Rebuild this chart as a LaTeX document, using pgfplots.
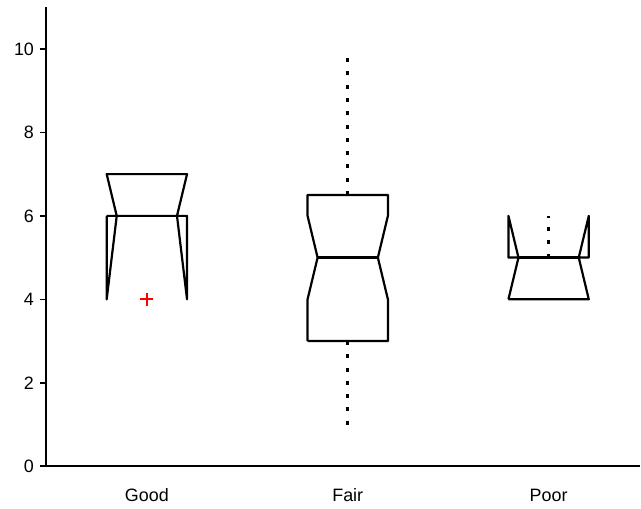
\documentclass[border=0pt]{standalone}
\usepackage{fontspec}
\setmainfont{Liberation Sans}
\usepackage{pgfplots}
\pgfplotsset{compat=1.18}

\begin{document}
\begin{tikzpicture}
\begin{axis}[
  scale only axis,
  width=594.5bp, height=459.8bp,
  xmin=0.5, xmax=3.455,
  ymin=0, ymax=11,
  axis x line=bottom, axis y line=left,
  axis line style={-, line width=2bp},
  every tick label/.append style={font=\fontsize{18}{21}\selectfont},
  /pgf/number format/assume math mode=true,
  ytick={0,2,...,10},
  tick align=outside,
  major tick length=6bp,
  every tick/.style={black, line width=1.6bp},
  yticklabel style={xshift=-3bp},
  xtick={1,2,3},
  xticklabels={Good, Fair, Poor},
  x tick style={draw=none},
  xticklabel style={anchor=base, yshift=-29bp},
  extra x ticks={1.5,2.5},
  extra x tick labels={},
  extra x tick style={tick style={draw=black, line width=1.6bp}},
  clip=false,
]
% boxes (notched outlines)
\addplot[black, line width=2.2bp, sharp plot, line join=round] coordinates {
  (0.8,6) (0.8,4) (0.85,6) (0.8,7) (1.2,7) (1.15,6) (1.2,4) (1.2,6) (0.8,6)
};
\addplot[black, line width=2.2bp, sharp plot, line join=round] coordinates {
  (1.8,3) (1.8,4) (1.85,5) (1.8,6) (1.8,6.5) (2.2,6.5) (2.2,6) (2.15,5) (2.2,4) (2.2,3) (1.8,3)
};
\addplot[black, line width=2.2bp, sharp plot, line join=round] coordinates {
  (2.8,4) (2.85,5) (2.8,6) (2.8,5) (3.2,5) (3.2,6) (3.15,5) (3.2,4) (2.8,4)
};
% medians
\addplot[black, line width=2.2bp] coordinates {(1.85,5) (2.15,5)};
\addplot[black, line width=2.2bp] coordinates {(2.85,5) (3.15,5)};
% whiskers
\addplot[black, line width=2.5bp, dash pattern=on 4bp off 9.3bp] coordinates {(2,6.5) (2,9.8)};
\addplot[black, line width=2.5bp, dash pattern=on 4bp off 9.3bp] coordinates {(2,3) (2,1)};
\addplot[black, line width=2.5bp, dash pattern=on 4bp off 9.3bp] coordinates {(3,5) (3,6)};
% outlier
\addplot[only marks, mark=+, mark size=6.5bp, color=red, line width=1.8bp] coordinates {(1,4)};
\end{axis}
\useasboundingbox ([xshift=-46.5bp, yshift=-42bp]current axis.south west) rectangle ([yshift=7.2bp]current axis.north east);
\end{tikzpicture}
\end{document}
